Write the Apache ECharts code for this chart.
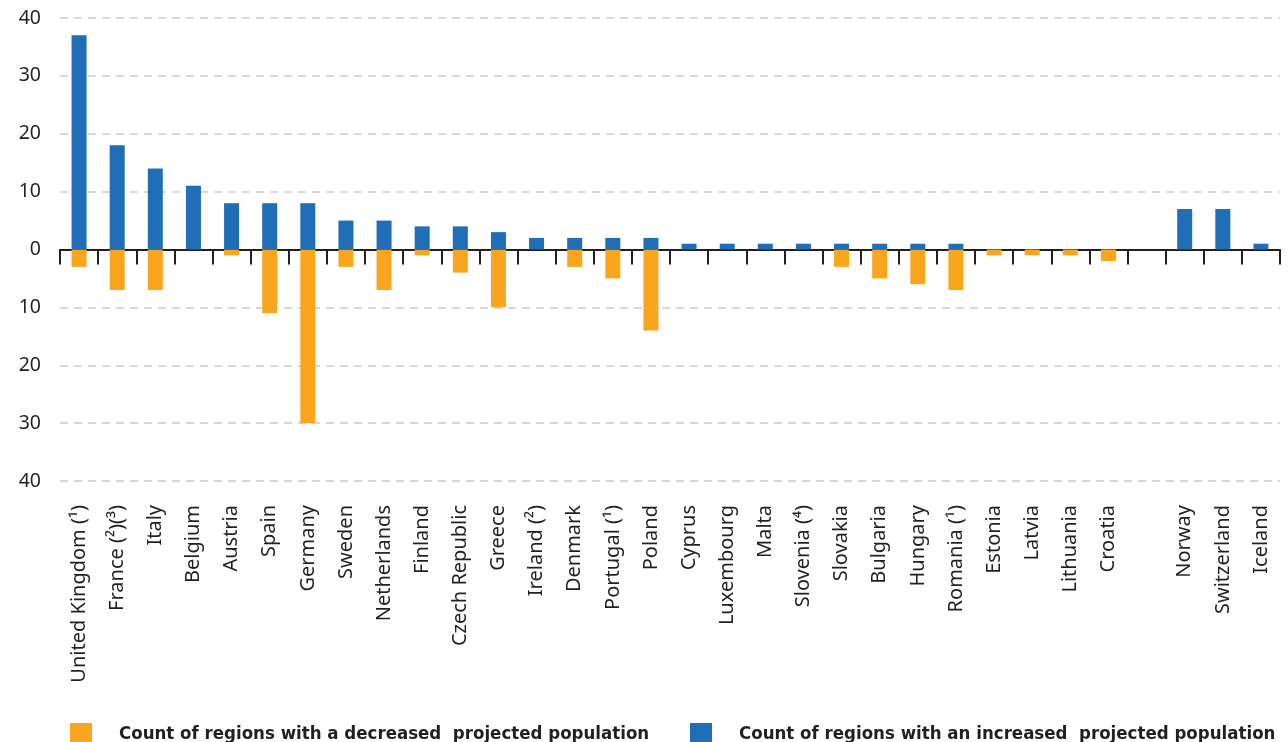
<!DOCTYPE html>
<html>
<head>
<meta charset="utf-8">
<script src="https://cdn.jsdelivr.net/npm/echarts@6/dist/echarts.min.js"></script>
<style>
html,body{margin:0;padding:0;background:#fff;}
#chart{width:1288px;height:742px;}
</style>
</head>
<body>
<div id="chart"></div>
<script>
const categories = ["United Kingdom (¹)","France (²)(³)","Italy","Belgium","Austria","Spain","Germany","Sweden","Netherlands","Finland","Czech Republic","Greece","Ireland (²)","Denmark","Portugal (¹)","Poland","Cyprus","Luxembourg","Malta","Slovenia (⁴)","Slovakia","Bulgaria","Hungary","Romania (¹)","Estonia","Latvia","Lithuania","Croatia","","Norway","Switzerland","Iceland"];
const increased = [37,18,14,11,8,8,8,5,5,4,4,3,2,2,2,2,1,1,1,1,1,1,1,1,0,0,0,0,null,7,7,1];
const decreased = [3,7,7,0,1,11,30,3,7,1,4,10,0,3,5,14,0,0,0,0,3,5,6,7,1,1,1,2,null,0,0,0];
const yTicks = [-40,-30,-20,-10,0,10,20,30,40];
const seriesNames = ["Count of regions with a decreased  projected population","Count of regions with an increased  projected population"];

const ORANGE = '#F9A61E', BLUE = '#1F6EB7';
const chart = echarts.init(document.getElementById('chart'));
const textColor = '#231F20';
const legendText = {fontFamily:'DejaVu Sans Condensed',fontWeight:'bold',fontSize:18.5,color:textColor,padding:[0,0,0,22]};
chart.setOption({
  animation:false,
  grid:{left:60,right:8,top:18,bottom:261,containLabel:false},
  legend:[
    {data:[seriesNames[0]],left:65,top:718,itemWidth:22,itemHeight:22,icon:'rect',textStyle:legendText},
    {data:[seriesNames[1]],left:685,top:718,itemWidth:22,itemHeight:22,icon:'rect',textStyle:legendText}
  ],
  xAxis:[
    {type:'category',data:categories,position:'bottom',boundaryGap:true,
     axisLine:{show:false,onZero:false},axisTick:{show:false},
     axisLabel:{interval:0,rotate:90,margin:24,fontFamily:'Noto Sans',fontSize:20,color:textColor}},
    {type:'category',data:categories,position:'bottom',boundaryGap:true,
     axisLine:{show:true,onZero:true,lineStyle:{color:'#231F20',width:2}},
     axisTick:{show:true,interval:0,length:15,lineStyle:{color:'#231F20',width:2}},
     axisLabel:{show:false}}
  ],
  yAxis:{type:'value',min:-40,max:40,interval:10,
    axisLine:{show:false},axisTick:{show:false},
    axisLabel:{margin:19,fontFamily:'Noto Sans',fontSize:19.5,color:textColor,formatter:v=>String(Math.abs(v))},
    splitLine:{show:true,lineStyle:{color:'#cccccc',width:1.5,type:[8,6]}}},
  series:[
    {name:seriesNames[0],type:'bar',stack:'s',barWidth:15,xAxisIndex:0,
     itemStyle:{color:ORANGE},data:decreased.map(v=>v==null?null:-v)},
    {name:seriesNames[1],type:'bar',stack:'s',barWidth:15,xAxisIndex:0,
     itemStyle:{color:BLUE},data:increased}
  ]
});
</script>
</body>
</html>
